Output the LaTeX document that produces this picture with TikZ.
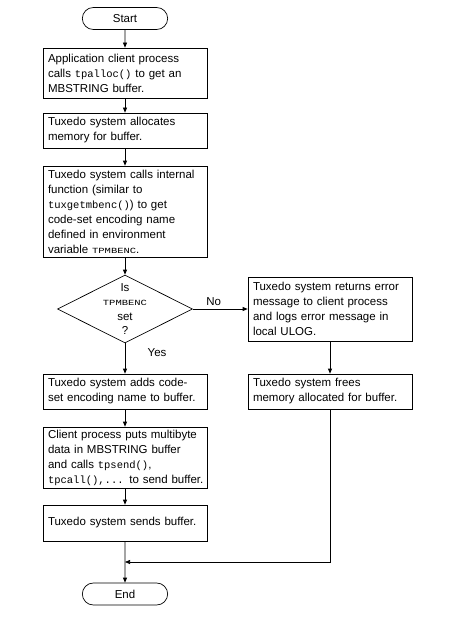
\documentclass[tikz,border=0pt]{standalone}
\usepackage{fontspec}
\usepackage{graphicx}
\setmainfont{Liberation Sans}
\setmonofont{Liberation Mono}
\usetikzlibrary{shapes.geometric,shapes.misc,arrows.meta,positioning}
\hyphenpenalty=10000
\newcommand{\code}[1]{{\fontsize{10.5}{15}\selectfont\ttfamily #1}}
\newcommand{\envcode}[1]{\scalebox{1}[0.75]{\fontsize{10.5}{12}\selectfont\ttfamily #1}}

\begin{document}
\begin{tikzpicture}[x=1pt,y=-1pt]
\tikzstyle{arrow} = [line width=0.7pt,-{Triangle[length=5pt,width=4pt]}]
\tikzstyle{process} = [draw,line width=0.7pt,text width=154pt,align=left,inner xsep=5pt,inner ysep=2pt,font=\fontsize{11.5}{15}\selectfont]
\tikzstyle{terminal} = [draw,rounded rectangle,line width=0.7pt,minimum width=92pt,minimum height=22pt,font=\fontsize{11.5}{15}\selectfont]
\tikzstyle{decision} = [draw,diamond,line width=0.7pt,minimum width=135pt,minimum height=68pt,inner sep=0pt]

\useasboundingbox (0,0) rectangle (456,623);

\node(start)[terminal] at (125,18.5) {Start};
\node(alloc)[process, minimum height=50pt, below of=start, node distance=54.5pt]{Application client process\\calls \code{tpalloc()} to get an\\MBSTRING buffer.};
\node(memory)[process, minimum height=35pt, below of=alloc, node distance=57.5pt]{Tuxedo system allocates\\memory for buffer.};
\node(getenc)[process, minimum height=91pt, below of=memory, node distance=81pt]{Tuxedo system calls internal\\function (similar to\\\code{tuxgetmbenc()}) to get\\code-set encoding name\\defined in environment\\variable \envcode{TPMBENC}.};
\node(isset)[decision, below of=getenc, node distance=97.5pt,
  label={[align=center,font=\fontsize{11.5}{14.5}\selectfont]center:{Is\\\envcode{TPMBENC}\\set\\?}}]{};
\node(addenc)[process, minimum height=35pt, below of=isset, node distance=82.5pt]{Tuxedo system adds code-\\set encoding name to buffer.};
\node(putdata)[process, minimum height=61pt, below of=addenc, node distance=66pt]{Client process puts multibyte\\data in MBSTRING buffer\\and calls \code{tpsend()},\\\mbox{\code{tpcall(),...} to send buffer.}};
\node(send)[process, minimum height=36pt, below of=putdata, node distance=65.5pt]{Tuxedo system sends buffer.};
\node(end)[terminal, below of=send, node distance=71pt]{End};
\node(error)[process, minimum height=64pt, right of=isset, node distance=205pt]{Tuxedo system returns error\\message to client process\\and logs error message in\\local ULOG.};
\node(free)[process, minimum height=35pt, below of=error, node distance=82.5pt]{Tuxedo system frees\\memory allocated for buffer.};
\coordinate[below of=send, node distance=39pt](join);

\draw [arrow] (start) -- (alloc);
\draw [arrow] (alloc) -- (memory);
\draw [arrow] (memory) -- (getenc);
\draw [arrow] (getenc) -- (isset);
\draw [arrow] (isset) -- node[pos=0.3, right=19pt, font=\fontsize{11.5}{15}\selectfont] {Yes} (addenc);
\draw [arrow] (addenc) -- (putdata);
\draw [arrow] (putdata) -- (send);
\draw [arrow] (send) -- (end);
\draw [arrow] (isset) -- node[pos=0.38, above, font=\fontsize{11.5}{15}\selectfont] {No} (error);
\draw [arrow] (error) -- (free);
\draw [arrow] (free) |- (join);
\end{tikzpicture}
\end{document}
